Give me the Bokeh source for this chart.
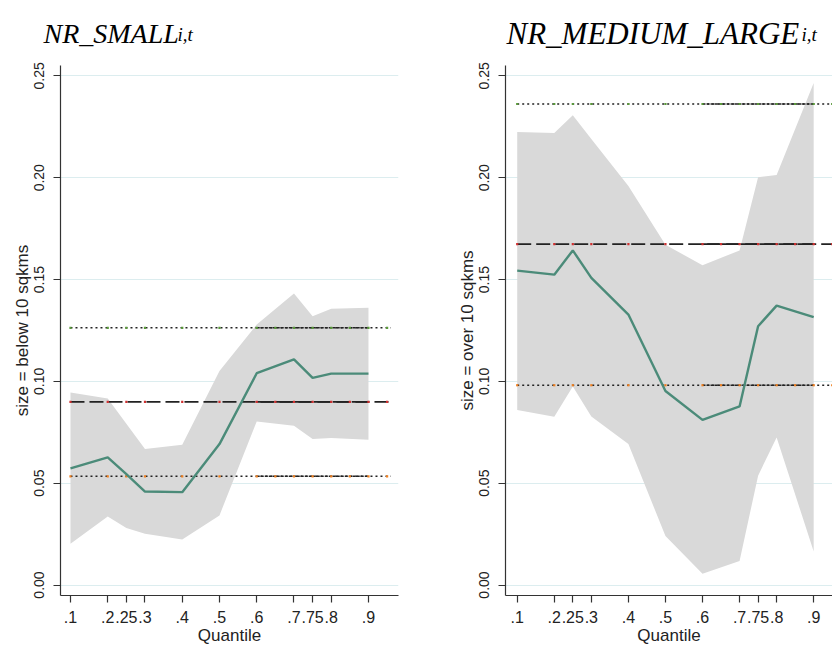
from bokeh.plotting import figure
from bokeh.layouts import row, column
from bokeh.models import Range1d, FixedTicker, NumeralTickFormatter
from bokeh.core.properties import value
from bokeh.embed import file_html
from bokeh.resources import INLINE

# ---------------- data ----------------
quantiles = [0.1, 0.2, 0.25, 0.3, 0.4, 0.5, 0.6, 0.7, 0.75, 0.8, 0.9]
quantile_labels = [".1", ".2", ".25", ".3", ".4", ".5", ".6", ".7", ".75", ".8", ".9"]
y_ticks = [0.0, 0.05, 0.10, 0.15, 0.20, 0.25]

panel_titles = ["NR_SMALL", "NR_MEDIUM_LARGE"]
title_subscript = "i,t"

# NR_SMALL (size = below 10 sqkms)
small_coef = [0.0573, 0.0627, 0.0545, 0.0459, 0.0456, 0.0692, 0.1040, 0.1108, 0.1017, 0.1038, 0.1038]
small_hi = [0.0945, 0.0916, 0.0792, 0.0668, 0.0689, 0.1051, 0.1279, 0.1431, 0.1320, 0.1356, 0.1361]
small_lo = [0.0203, 0.0337, 0.0280, 0.0252, 0.0223, 0.0342, 0.0803, 0.0782, 0.0717, 0.0722, 0.0713]
small_ols_lo, small_ols, small_ols_hi = 0.0534, 0.0899, 0.1263

# NR_MEDIUM_LARGE (size = over 10 sqkms)
large_coef = [0.1544, 0.1524, 0.1643, 0.1508, 0.1328, 0.0953, 0.0811, 0.0877, 0.1271, 0.1372, 0.1315]
large_hi = [0.2225, 0.2220, 0.2307, 0.2190, 0.1959, 0.1671, 0.1570, 0.1643, 0.2002, 0.2013, 0.2465]
large_lo = [0.0859, 0.0826, 0.0975, 0.0828, 0.0692, 0.0241, 0.0056, 0.0118, 0.0537, 0.0725, 0.0165]
large_ols_lo, large_ols, large_ols_hi = 0.0981, 0.1674, 0.2362

# OLS reference lines: span, overlapping segment, and marker positions
ols_span = [0.1, 0.96]
ols_dense = [0.6, 0.9]
ols_marks = [0.1, 0.2, 0.25, 0.3, 0.4, 0.5, 0.6, 0.65, 0.7, 0.75, 0.8, 0.85, 0.9, 0.95]

# ---------------- style / layout ----------------
LINE_GREEN = "#4b8b79"
BAND = "#d9d9d9"
GRID = "#dcedef"
AXIS = "#333333"
TXT = "#222222"
SANS = "Liberation Sans"
SERIF = "Liberation Serif"

LEFT_W = 417
RIGHT_W = 415
HEADER_H = 57
FRAME_H = 530


def make_panel(ylabel, coef, lo, hi, ols_lo, ols, ols_hi,
               x_start, x_end, frame_w, border_left, border_right):
    p = figure(frame_width=frame_w, frame_height=FRAME_H,
               x_range=Range1d(x_start, x_end), y_range=Range1d(-0.00514, 0.2551),
               output_backend="svg", toolbar_location=None,
               min_border_left=border_left, min_border_right=border_right,
               min_border_top=8, min_border_bottom=0)
    p.outline_line_color = None
    p.background_fill_color = "white"
    p.border_fill_color = "white"

    p.xgrid.visible = False
    p.ygrid.ticker = FixedTicker(ticks=y_ticks)
    p.ygrid.grid_line_color = GRID
    p.ygrid.grid_line_width = 1

    p.yaxis.ticker = FixedTicker(ticks=y_ticks)
    p.yaxis.formatter = NumeralTickFormatter(format="0.00")
    p.yaxis.major_label_orientation = "vertical"
    p.yaxis.major_label_text_font = SANS
    p.yaxis.major_label_text_font_size = "14px"
    p.yaxis.major_label_text_color = TXT
    p.yaxis.major_label_standoff = 9
    p.yaxis.axis_label = ylabel
    p.yaxis.axis_label_text_font = SANS
    p.yaxis.axis_label_text_font_style = "normal"
    p.yaxis.axis_label_text_font_size = "17px"
    p.yaxis.axis_label_text_color = TXT
    p.yaxis.axis_label_standoff = 0

    p.xaxis.ticker = FixedTicker(ticks=quantiles)
    p.xaxis.major_label_overrides = dict(zip(quantiles, quantile_labels))
    p.xaxis.major_label_text_font = SANS
    p.xaxis.major_label_text_font_size = "16px"
    p.xaxis.major_label_text_color = TXT
    p.xaxis.major_label_standoff = 8
    p.xaxis.axis_label = "Quantile"
    p.xaxis.axis_label_text_font = SANS
    p.xaxis.axis_label_text_font_style = "normal"
    p.xaxis.axis_label_text_font_size = "17px"
    p.xaxis.axis_label_text_color = TXT
    p.xaxis.axis_label_standoff = 0

    for ax in (p.xaxis[0], p.yaxis[0]):
        ax.axis_line_color = AXIS
        ax.axis_line_width = 1.2
        ax.major_tick_line_color = AXIS
        ax.major_tick_line_width = 1.2
        ax.major_tick_in = 0
        ax.major_tick_out = 7
        ax.minor_tick_line_color = None

    # confidence band of the quantile estimates
    p.varea(x=quantiles, y1=lo, y2=hi, fill_color=BAND, fill_alpha=1.0)

    # OLS estimate (dashed) and its confidence interval (dotted)
    for yv in (ols_hi, ols_lo):
        p.line(x=ols_span, y=[yv, yv], line_color=TXT, line_width=1.6, line_dash="2 3")
        p.line(x=ols_dense, y=[yv, yv], line_color=TXT, line_width=1.6, line_dash="3 1")
    p.line(x=ols_span, y=[ols, ols], line_color=TXT, line_width=1.7, line_dash="14 5")
    p.line(x=ols_dense, y=[ols, ols], line_color=TXT, line_width=1.7, line_dash="17 2")
    p.scatter(x=ols_marks, y=[ols_hi] * len(ols_marks), marker="square", size=2.2,
              fill_color="#5a9a3a", line_color=None)
    p.scatter(x=ols_marks, y=[ols] * len(ols_marks), marker="square", size=2.2,
              fill_color="#d03030", line_color=None)
    p.scatter(x=ols_marks, y=[ols_lo] * len(ols_marks), marker="square", size=2.2,
              fill_color="#f08020", line_color=None)

    # quantile regression coefficient
    p.line(x=quantiles, y=coef, line_color=LINE_GREEN, line_width=2.4)
    return p


p1 = make_panel("size = below 10 sqkms", small_coef, small_lo, small_hi,
                small_ols_lo, small_ols, small_ols_hi,
                0.0732, 0.9806, 338, 60, LEFT_W - 60 - 338)
p2 = make_panel("size = over 10 sqkms", large_coef, large_lo, large_hi,
                large_ols_lo, large_ols, large_ols_hi,
                0.0684, 0.0684 + (RIGHT_W - 88) / 370.6, RIGHT_W - 88, 88, 0)

# header strip carrying the two italic panel titles with their subscripts
W = LEFT_W + RIGHT_W
h = figure(width=W, height=HEADER_H, x_range=Range1d(0, W), y_range=Range1d(0, HEADER_H),
           output_backend="svg", toolbar_location=None, min_border=0)
h.axis.visible = False
h.grid.visible = False
h.outline_line_color = None
h.text(x=[43], y=[HEADER_H - 33], text=panel_titles[:1],
       text_font=value(SERIF), text_font_style="italic", text_font_size="28px",
       text_color="black", text_baseline="alphabetic", text_align="left")
h.text(x=[506], y=[HEADER_H - 33], text=panel_titles[1:],
       text_font=value(SERIF), text_font_style="italic", text_font_size="31px",
       text_color="black", text_baseline="alphabetic", text_align="left")
h.text(x=[177, 801], y=[HEADER_H - 34, HEADER_H - 34], text=[title_subscript, title_subscript],
       text_font=value(SERIF), text_font_style="italic", text_font_size="19px",
       text_color="black", text_baseline="alphabetic", text_align="left")

layout = column(h, row(p1, p2))
open("out.html", "w").write(file_html(layout, INLINE))
